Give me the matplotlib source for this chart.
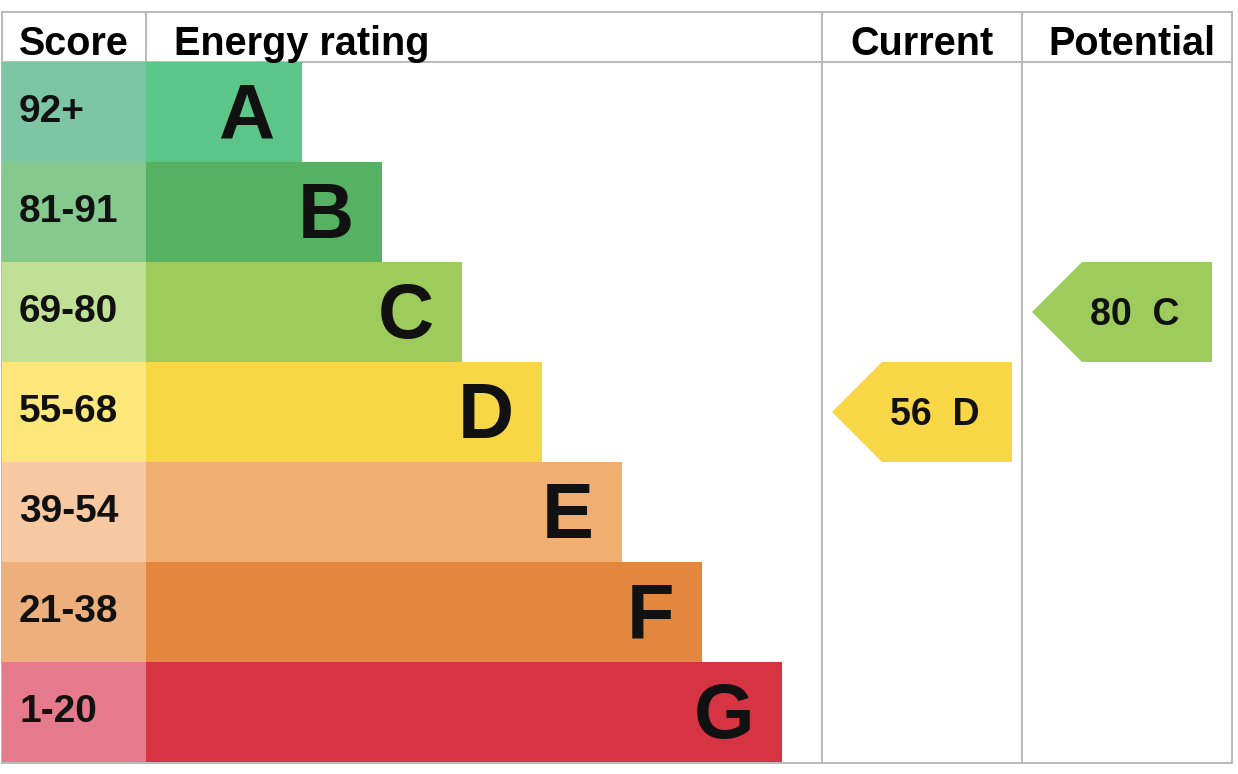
import matplotlib.pyplot as plt
from matplotlib.patches import Polygon

plt.rcParams['font.family'] = ['Liberation Sans', 'DejaVu Sans']

# data
bands = ['A', 'B', 'C', 'D', 'E', 'F', 'G']
score_ranges = ['92+', '81-91', '69-80', '55-68', '39-54', '21-38', '1-20']
bar_colors = ['#5bc58a', '#54b262', '#9dcc5c', '#f8d747', '#f0ae71', '#e2873d', '#d63443']
score_colors = ['#7dc5a5', '#86c98f', '#bfe095', '#fde67a', '#f6c9a2', '#edaf7b', '#e47a8b']
current_score, current_band = 56, 'D'
potential_score, potential_band = 80, 'C'

W, H = 1238, 774
fig = plt.figure(figsize=(W / 100, H / 100), dpi=100)
ax = fig.add_axes([0, 0, 1, 1])
ax.set_xlim(0, W)
ax.set_ylim(H, 0)
ax.axis('off')

# layout (pixels)
left, right = 2, 1232
top, head_h, row_h = 12, 50, 100
score_w = 144
bar_x0 = left + score_w
cur_x0, pot_x0 = 822, 1022
bar_min, bar_step = 156, 80
line_c = '#b4b4b4'

rows_top = top + head_h
centers = [rows_top + row_h * (i + 0.5) for i in range(len(bands))]
bottom = rows_top + row_h * len(bands) + 1

# score column + bars
ax.barh(centers, [score_w] * len(bands), height=row_h, left=left, color=score_colors, zorder=2)
widths = [bar_min + bar_step * i for i in range(len(bands))]
ax.barh(centers, widths, height=row_h, left=bar_x0, color=bar_colors, zorder=2)

for i, b in enumerate(bands):
    rt = rows_top + row_h * i
    ax.text(19, rt + 60, score_ranges[i], fontsize=28, fontweight='bold',
            color='#111111', ha='left', va='baseline', zorder=3)
    ax.text(bar_x0 + widths[i] - 28, rt + 76, b, fontsize=56, fontweight='bold',
            color='#111111', ha='right', va='baseline', zorder=3)

# grid lines
lw = 1.3
ax.plot([left, right], [top, top], color=line_c, lw=lw, zorder=1)
ax.plot([left, right], [rows_top, rows_top], color=line_c, lw=lw, zorder=1)
ax.plot([left, right], [bottom, bottom], color=line_c, lw=lw, zorder=1)
ax.plot([left, left], [top, bottom], color=line_c, lw=lw, zorder=1)
ax.plot([bar_x0, bar_x0], [top, rows_top], color=line_c, lw=lw, zorder=1)
for x in (cur_x0, pot_x0, right):
    ax.plot([x, x], [top, bottom], color=line_c, lw=lw, zorder=1)

# headers
hb = top + 43
hs = 28.5
ax.text(19, hb, 'Score', fontsize=hs, fontweight='bold', ha='left', va='baseline')
ax.text(174, hb, 'Energy rating', fontsize=hs, fontweight='bold', ha='left', va='baseline')
ax.text((cur_x0 + pot_x0) / 2, hb, 'Current', fontsize=hs, fontweight='bold', ha='center', va='baseline')
ax.text((pot_x0 + right) / 2 + 5, hb, 'Potential', fontsize=hs, fontweight='bold', ha='center', va='baseline')


def arrow(col_x0, score, band):
    i = bands.index(band)
    rt = rows_top + row_h * i
    x0 = col_x0 + 10
    x1 = x0 + 180
    notch = 50
    pts = [(x0, rt + row_h / 2), (x0 + notch, rt), (x1, rt), (x1, rt + row_h), (x0 + notch, rt + row_h)]
    ax.add_patch(Polygon(pts, closed=True, color=bar_colors[i], lw=0, zorder=2))
    ax.text((x0 + notch + x1) / 2 - 12, rt + 63, f'{score}  {band}', fontsize=27,
            fontweight='bold', color='#111111', ha='center', va='baseline', zorder=3)


arrow(cur_x0, current_score, current_band)
arrow(pot_x0, potential_score, potential_band)

fig.savefig('out.png', dpi=100)
